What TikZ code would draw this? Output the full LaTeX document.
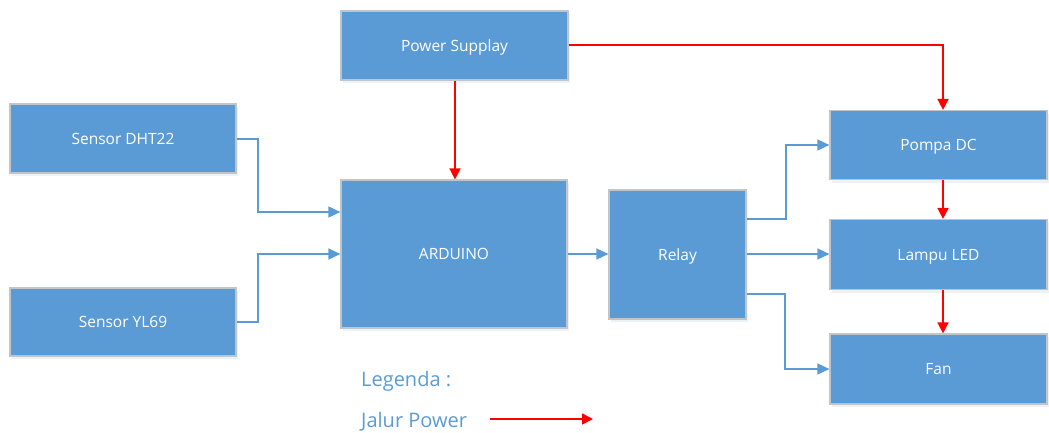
\documentclass[tikz,border=0pt]{standalone}
\usepackage{fontspec}
\setmainfont{Open Sans}
\usetikzlibrary{arrows.meta,shadows}
\definecolor{boxblue}{HTML}{5B9BD5}
\definecolor{boxedge}{HTML}{C0C5CC}
\definecolor{pwr}{HTML}{FF0000}
\tikzset{
  blk/.style={draw=boxedge, line width=1.2pt, fill=boxblue, text=white, inner sep=0pt,
    font=\fontsize{15.5}{18}\selectfont, text height=11pt, text depth=0pt,
    drop shadow={shadow xshift=2pt, shadow yshift=-3pt, opacity=0.12, fill=boxblue!60!gray}},
  sig/.style={draw=boxblue, line width=1.6pt, -{Triangle[length=12pt,width=11pt]}},
  pwrline/.style={draw=pwr, line width=1.6pt, -{Triangle[length=11pt,width=11pt]}},
  legtext/.style={text=boxblue, font=\fontsize{20}{24}\selectfont, anchor=base west, inner sep=0pt}
}
\begin{document}
\begin{tikzpicture}[x=1pt,y=-1pt]
\useasboundingbox (0,0) rectangle (1049,432);
\node[blk, minimum width=227pt, minimum height=69pt] (ps) at (454.5,45.5) {Power Supplay};
\node[blk, minimum width=226pt, minimum height=69pt] (dht) at (123,138.5) {Sensor DHT22};
\node[blk, minimum width=226pt, minimum height=68pt] (yl) at (123,322) {Sensor YL69};
\node[blk, minimum width=226pt, minimum height=148pt] (ard) at (454,254) {ARDUINO};
\node[blk, minimum width=137pt, minimum height=129pt] (rel) at (677.5,254.5) {Relay};
\node[blk, minimum width=217pt, minimum height=69pt] (pompa) at (938.5,145) {Pompa DC};
\node[blk, minimum width=217pt, minimum height=70pt] (led) at (938.5,254.5) {Lampu LED};
\node[blk, minimum width=217pt, minimum height=70pt] (fan) at (938.5,369) {Fan};

\draw[sig] (dht.east |- 0,139) -| (258,212) -- (ard.west |- 0,212);
\draw[sig] (yl.east |- 0,322) -| (258,254) -- (ard.west |- 0,254);
\draw[sig] (ard.east |- 0,254) -- (rel.west |- 0,254);
\draw[sig] (rel.east |- 0,219) -| (786,145) -- (pompa.west);
\draw[sig] (rel.east |- 0,254) -- (led.west |- 0,254);
\draw[sig] (rel.east |- 0,294) -| (785,369) -- (fan.west);

\draw[pwrline] (ps.south -| 455,0) -- (ard.north -| 455,0);
\draw[pwrline] (ps.east |- 0,45) -| (943,0 |- pompa.north);
\draw[pwrline] (pompa.south -| 943,0) -- (led.north -| 943,0);
\draw[pwrline] (led.south -| 943,0) -- (fan.north -| 943,0);

\node[legtext] (leg) at (361,386) {Legenda :};
\node[legtext] (jp) at (361,427) {Jalur Power};
\coordinate (la) at (490,419);
\coordinate (lb) at (593,419);
\draw[pwrline] (la) -- (lb);
\end{tikzpicture}
\end{document}
